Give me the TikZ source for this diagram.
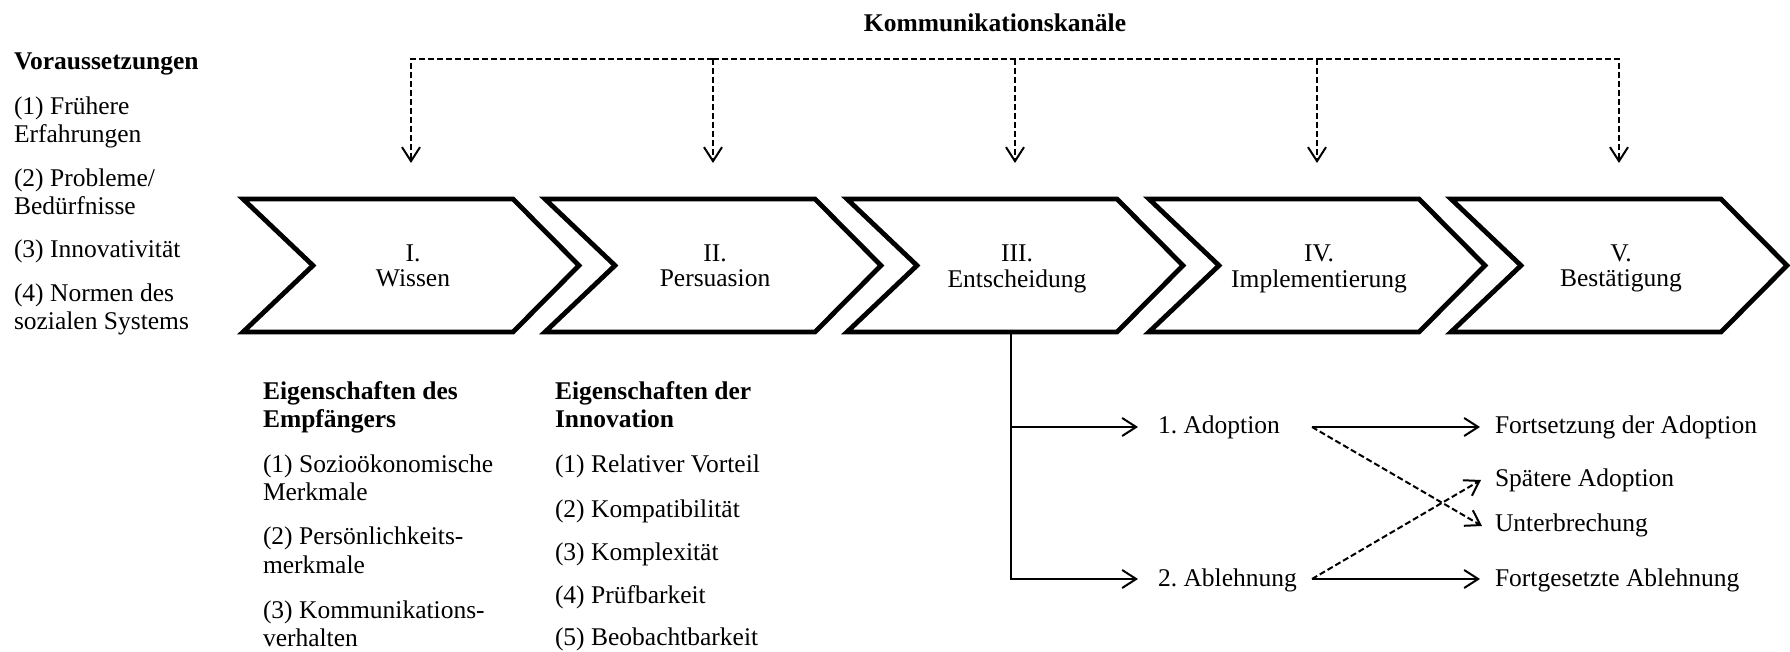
\documentclass[tikz,border=0pt]{standalone}
\usepackage{fontspec}
\setmainfont{Liberation Serif}
\usetikzlibrary{arrows.meta}
\frenchspacing
\newcommand\mlines[1]{\begin{tabular}[t]{@{}l@{}}#1\end{tabular}}
\newcommand\clines[1]{\begin{tabular}[t]{@{}c@{}}#1\end{tabular}}
\begin{document}
\begin{tikzpicture}[x=0.5pt,y=-0.5pt,
  every node/.style={inner sep=0pt, outer sep=0pt},
  txt/.style={font=\fontsize{12.75}{14}\selectfont, anchor=base west},
  hd/.style={font=\fontsize{12.75}{14}\selectfont\bfseries, anchor=base west},
  chev/.style={draw, line width=2.4pt, line join=miter},
  chevtxt/.style={font=\fontsize{12.75}{12.5}\selectfont, anchor=base},
  conn/.style={line width=1pt, -{Straight Barb[length=7pt,width=9pt,line width=1pt]}},
  dline/.style={line width=1pt, dash pattern=on 3pt off 1.5pt},
  dconn/.style={conn, dash pattern=on 3pt off 1.5pt},
]
\useasboundingbox (0,0) rectangle (1790,652);

% chevrons
\foreach \i/\a/\b in {0/I./Wissen, 1/II./Persuasion, 2/III./Entscheidung, 3/IV./Implementierung, 4/V./Bestätigung}{
  \pgfmathsetmacro\L{243+302*\i}
  \draw[chev] (\L,199) -- ++(270,0) -- ++(66,66.5) -- ++(-66,66.5) -- ++(-270,0) -- ++(70,-66.5) -- cycle;
  \node[chevtxt] (s\i) at (\L+170,262) {\clines{\a\\\b}};
  \coordinate (top\i) at (\L+168,163);
  \coordinate (br\i) at (\L+168,59);
}

% communication channels
\node[hd, anchor=base] (kk) at (995,32) {Kommunikationskanäle};
\draw[dline] (br1) -- (br3);
\draw[dconn] (br1) -- (br0) -- (top0);
\draw[dconn] (br3) -- (br4) -- (top4);
\draw[dconn] (br1) -- (top1);
\draw[dconn] (br2) -- (top2);
\draw[dconn] (br3) -- (top3);

% prerequisites
\node[hd] (vor) at (14,70) {Voraussetzungen};
\node[txt] (v1) at (14,115) {\mlines{(1) Frühere\\Erfahrungen}};
\node[txt] (v2) at (14,187) {\mlines{(2) Probleme/\\Bedürfnisse}};
\node[txt] (v3) at (14,258) {(3) Innovativität};
\node[txt] (v4) at (14,302) {\mlines{(4) Normen des\\sozialen Systems}};

% receiver characteristics
\node[hd] (ee) at (263,400) {\mlines{Eigenschaften des\\Empfängers}};
\node[txt] (e1) at (263,473) {\mlines{(1) Sozioökonomische\\Merkmale}};
\node[txt] (e2) at (263,545) {\mlines{(2) Persönlichkeits-\\merkmale}};
\node[txt] (e3) at (263,618) {\mlines{(3) Kommunikations-\\verhalten}};

% innovation characteristics
\node[hd] (ei) at (555,400) {\mlines{Eigenschaften der\\Innovation}};
\node[txt] (i1) at (555,473) {(1) Relativer Vorteil};
\node[txt] (i2) at (555,517) {(2) Kompatibilität};
\node[txt] (i3) at (555,560) {(3) Komplexität};
\node[txt] (i4) at (555,603) {(4) Prüfbarkeit};
\node[txt] (i5) at (555,645) {(5) Beobachtbarkeit};

% decision branches
\coordinate (d0) at (1011,331);
\coordinate (dA) at (1011,427);
\coordinate (adin) at (1138,427);
\coordinate (abin) at (1138,579);
\node[txt] (ad) at (1158,434) {1. Adoption};
\node[txt] (ab) at (1158,586) {2. Ablehnung};
\draw[conn] (d0) |- (adin);
\draw[conn] (dA) |- (abin);

\coordinate (adout) at (1312,427);
\coordinate (about) at (1312,579);
\coordinate (fain) at (1480,427);
\coordinate (sain) at (1481,480);
\coordinate (ubin) at (1482,526);
\coordinate (fabin) at (1480,579);
\node[txt] (fa) at (1495,434) {Fortsetzung der Adoption};
\node[txt] (sa) at (1495,487) {Spätere Adoption};
\node[txt] (ub) at (1495,531) {Unterbrechung};
\node[txt] (fab) at (1495,586) {Fortgesetzte Ablehnung};
\draw[conn] (adout) -- (fain);
\draw[conn] (about) -- (fabin);
\draw[dconn] (adout) -- (ubin);
\draw[dconn] (about) -- (sain);
\end{tikzpicture}
\end{document}
